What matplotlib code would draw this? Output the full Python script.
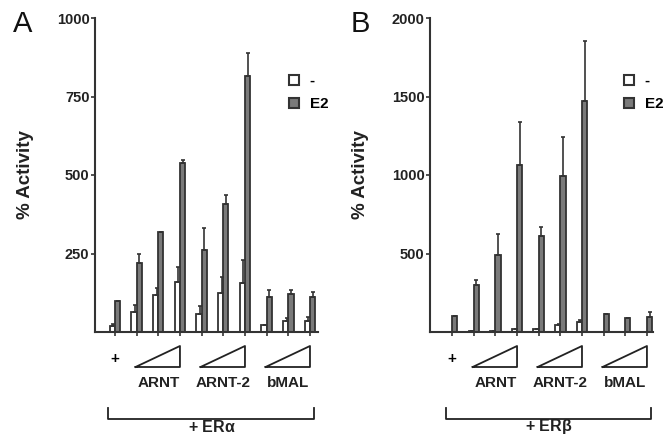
import numpy as np
import matplotlib
matplotlib.use("Agg")
import matplotlib.pyplot as plt
from matplotlib.lines import Line2D

plt.rcParams['font.family'] = ['Liberation Sans', 'DejaVu Sans']

# panel A (ER alpha)
a_ctrl = [18, 64, 117, 160, 58, 124, 156, 21, 35, 35]
a_ctrl_err = [9, 21, 24, 47, 24, 51, 73, 0, 8, 13]
a_e2 = [99, 221, 317, 537, 261, 407, 816, 112, 120, 112]
a_e2_err = [0, 27, 3, 11, 71, 29, 74, 21, 15, 16]

# panel B (ER beta)
b_ctrl = [3, 5, 5, 21, 21, 47, 64, 2, 2, 2]
b_ctrl_err = [0, 0, 0, 0, 0, 6, 10, 0, 0, 0]
b_e2 = [102, 298, 489, 1064, 611, 994, 1472, 113, 89, 96]
b_e2_err = [0, 36, 134, 276, 59, 251, 383, 0, 0, 32]

groups = ["ARNT", "ARNT-2", "bMAL"]

fig = plt.figure(figsize=(6.68, 4.37), dpi=100)
W, H = 668.0, 437.0


def fx(px):
    return px / W


def fy(py):
    return 1 - py / H


def panel(left, right, xl, ymax, yticks, ctrl, cerr, e2, eerr, letter, letter_x, ertext):
    ax = fig.add_axes([fx(left), fy(332), fx(right - left), fy(18) - fy(332)])
    x = np.arange(10)
    w = 0.24
    ax.bar(x - w / 2, ctrl, w, color='white', edgecolor='#333333', linewidth=1.3, zorder=2)
    ax.bar(x + w / 2, e2, w, color='#7a7a7a', edgecolor='#333333', linewidth=1.3, zorder=2)
    ax.errorbar(x - w / 2 + 0.05, ctrl, yerr=[np.zeros(10), cerr], fmt='none',
                ecolor='#333333', elinewidth=1.2, capsize=1.5, capthick=1.2, zorder=3)
    ax.errorbar(x + w / 2, e2, yerr=[np.zeros(10), eerr], fmt='none',
                ecolor='#333333', elinewidth=1.2, capsize=1.5, capthick=1.2, zorder=3)
    ax.set_xlim(*xl)
    ax.set_ylim(0, ymax)
    ax.set_yticks(yticks)
    ax.set_yticklabels([str(t) for t in yticks], fontsize=10.5, fontweight='bold', color='#222222')
    ax.set_xticks(x)
    ax.set_xticklabels([])
    ax.tick_params(axis='both', length=3, width=1.2, color='#333333', pad=1)
    for s in ['top', 'right']:
        ax.spines[s].set_visible(False)
    for s in ['left', 'bottom']:
        ax.spines[s].set_linewidth(1.5)
        ax.spines[s].set_color('#333333')
    ax.set_ylabel('% Activity', fontsize=13.5, fontweight='bold', color='#222222', labelpad=16)

    # legend
    h1 = Line2D([], [], marker='s', ls='none', markersize=6.5, markerfacecolor='white',
                markeredgecolor='#333333', markeredgewidth=1.5)
    h2 = Line2D([], [], marker='s', ls='none', markersize=6.5, markerfacecolor='#7a7a7a',
                markeredgecolor='#333333', markeredgewidth=1.5)
    ax.legend([h1, h2], ['-', 'E2'], loc='upper left', bbox_to_anchor=(0.805, 0.865),
              frameon=False, handlelength=0.8, handletextpad=0.6, labelspacing=0.6,
              prop={'weight': 'bold', 'size': 11})

    fig.text(fx(letter_x), fy(24), letter, fontsize=21, ha='center', va='center', color='#111111')

    # lower annotations in axes data x coordinates
    trans = ax.get_xaxis_transform()

    def yax(py):
        return (332 - py) / (332 - 18)
    ax.text(0, yax(359), '+', transform=trans, ha='center', va='center', fontsize=11,
            fontweight='bold', clip_on=False)
    for gi, name in enumerate(groups):
        x0 = 1 + 3 * gi - 0.05
        x1 = 3 + 3 * gi
        ax.plot([x0, x1, x1, x0], [yax(367), yax(346), yax(367), yax(367)], transform=trans,
                color='#222222', lw=1.3, clip_on=False)
        ax.text(2 + 3 * gi, yax(383), name, transform=trans, ha='center', va='center',
                fontsize=11, fontweight='bold', color='#222222', clip_on=False)
    ax.plot([-0.3, -0.3, 9.2, 9.2], [yax(408), yax(419), yax(419), yax(408)], transform=trans,
            color='#222222', lw=1.3, clip_on=False)
    ax.text(4.45, yax(427), ertext, transform=trans, ha='center', va='center', fontsize=11.5,
            fontweight='bold', color='#222222', clip_on=False)
    return ax


panel(95, 318, (-0.92, 9.37), 1000, [250, 500, 750, 1000], a_ctrl, a_ctrl_err, a_e2, a_e2_err,
      'A', 23, '+ ER$\\mathregular{\\alpha}$')
panel(430, 653, (-1.02, 9.28), 2000, [500, 1000, 1500, 2000], b_ctrl, b_ctrl_err, b_e2, b_e2_err,
      'B', 360, '+ ER$\\mathregular{\\beta}$')

fig.savefig('out.png', dpi=100)
